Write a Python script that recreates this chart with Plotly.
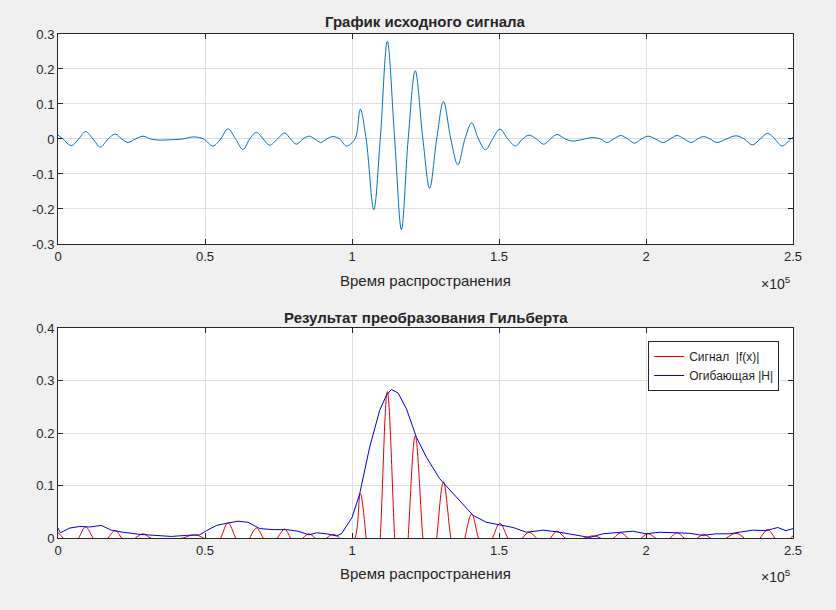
import plotly.graph_objects as go

# исходный сигнал: экстремумы и нули (время в единицах 1e5)
sig_t = [0.000, 0.017, 0.045, 0.070, 0.094, 0.119, 0.144, 0.170, 0.195, 0.217,
         0.238, 0.263, 0.289, 0.315, 0.340, 0.390, 0.425, 0.460, 0.495, 0.527,
         0.553, 0.578, 0.604, 0.629, 0.652, 0.675, 0.698, 0.720, 0.746, 0.771,
         0.791, 0.811, 0.833, 0.854, 0.874, 0.893, 0.914, 0.935, 0.958, 0.981,
         1.010, 1.028, 1.048, 1.074, 1.096, 1.120, 1.145, 1.168, 1.191, 1.215,
         1.241, 1.264, 1.288, 1.311, 1.336, 1.360, 1.384, 1.407, 1.430, 1.454,
         1.478, 1.503, 1.530, 1.556, 1.580, 1.602, 1.627, 1.652, 1.675, 1.697,
         1.725, 1.752, 1.790, 1.820, 1.845, 1.867, 1.890, 1.914, 1.938, 1.961,
         1.984, 2.007, 2.032, 2.058, 2.082, 2.105, 2.130, 2.154, 2.175, 2.196,
         2.218, 2.241, 2.273, 2.306, 2.334, 2.361, 2.388, 2.414, 2.438, 2.463,
         2.492, 2.500]
sig_y = [0.011, 0.000, -0.019, 0.000, 0.021, 0.000, -0.023, 0.000, 0.014, 0.000,
         -0.010, 0.000, 0.008, 0.000, -0.003, -0.002, 0.000, 0.006, 0.000, -0.020,
         0.000, 0.029, 0.000, -0.030, 0.000, 0.019, 0.000, -0.018, 0.000, 0.017,
         0.000, -0.015, 0.000, 0.008, 0.000, -0.010, 0.000, 0.007, 0.000, -0.020,
         0.000, 0.085, 0.000, -0.202, 0.000, 0.279, 0.000, -0.259, 0.000, 0.195,
         0.000, -0.141, 0.000, 0.107, 0.000, -0.074, 0.000, 0.046, 0.000, -0.031,
         0.000, 0.028, 0.000, -0.020, 0.000, 0.011, 0.000, -0.015, 0.000, 0.013,
         0.000, -0.006, 0.000, 0.004, 0.000, -0.010, 0.000, 0.010, 0.000, -0.012,
         0.000, 0.008, 0.000, -0.010, 0.000, 0.010, 0.000, -0.010, 0.000, 0.007,
         0.000, -0.010, 0.000, 0.009, 0.000, -0.017, 0.000, 0.016, 0.000, -0.020,
         0.000, 0.004]

# огибающая |H|
env_t = [0.000, 0.008, 0.040, 0.074, 0.108, 0.147, 0.181, 0.221, 0.278, 0.334,
         0.385, 0.436, 0.482, 0.505, 0.539, 0.573, 0.612, 0.646, 0.686, 0.731,
         0.777, 0.816, 0.854, 0.879, 0.913, 0.947, 0.964, 1.000, 1.026, 1.060,
         1.094, 1.117, 1.134, 1.157, 1.185, 1.219, 1.253, 1.298, 1.310, 1.355,
         1.412, 1.457, 1.502, 1.548, 1.593, 1.650, 1.707, 1.764, 1.808, 1.853,
         1.898, 1.955, 2.000, 2.045, 2.102, 2.147, 2.193, 2.238, 2.283, 2.317,
         2.363, 2.408, 2.448, 2.476, 2.500]
env_y = [0.019, 0.010, 0.019, 0.022, 0.021, 0.024, 0.015, 0.011, 0.007, 0.005,
         0.003, 0.005, 0.006, 0.014, 0.024, 0.028, 0.032, 0.030, 0.018, 0.016,
         0.016, 0.013, 0.006, 0.010, 0.008, 0.004, 0.008, 0.039, 0.084, 0.173,
         0.243, 0.272, 0.283, 0.276, 0.246, 0.192, 0.154, 0.113, 0.106, 0.078,
         0.043, 0.030, 0.025, 0.020, 0.011, 0.015, 0.011, 0.005, 0.001, 0.008,
         0.010, 0.013, 0.008, 0.011, 0.010, 0.009, 0.005, 0.008, 0.008, 0.011,
         0.015, 0.014, 0.020, 0.014, 0.018]

x_ticks = [0, 0.5, 1, 1.5, 2, 2.5]
x_labels = ["0", "0.5", "1", "1.5", "2", "2.5"]
y1_ticks = [-0.3, -0.2, -0.1, 0, 0.1, 0.2, 0.3]
y1_labels = ["-0.3", "-0.2", "-0.1", "0", "0.1", "0.2", "0.3"]
y2_ticks = [0, 0.1, 0.2, 0.3, 0.4]
y2_labels = ["0", "0.1", "0.2", "0.3", "0.4"]

FONT = "Liberation Sans, Arial, sans-serif"
INK = "#262626"

fig = go.Figure()
fig.add_trace(go.Scatter(x=sig_t, y=sig_y, mode="lines", line=dict(color="#0072BD", width=1, shape="spline"),
                         showlegend=False, xaxis="x", yaxis="y"))
fig.add_trace(go.Scatter(x=sig_t, y=sig_y, mode="lines", line=dict(color="#E00000", width=1, shape="spline"),
                         name="Сигнал  |f(x)|", xaxis="x2", yaxis="y2"))
fig.add_trace(go.Scatter(x=env_t, y=env_y, mode="lines", line=dict(color="#0000E0", width=1),
                         name="Огибающая |H|", xaxis="x2", yaxis="y2"))

axis_style = dict(showline=True, mirror="ticks", linecolor=INK, linewidth=1, ticks="inside", ticklen=5,
                  tickcolor=INK, showgrid=True, gridcolor="#DFDFDF", zeroline=False, automargin=False,
                  tickfont=dict(family=FONT, size=13, color=INK))

fig.update_layout(
    width=836, height=610,
    margin=dict(l=0, r=0, t=0, b=0, autoexpand=False),
    paper_bgcolor="#F0F0F0", plot_bgcolor="white",
    font=dict(family=FONT, color=INK),
    xaxis=dict(domain=[0.0694, 0.9486], range=[0, 2.5], tickvals=x_ticks, ticktext=x_labels,
               anchor="y", **axis_style),
    yaxis=dict(domain=[0.6, 0.9443], range=[-0.3, 0.3], tickvals=y1_ticks, ticktext=y1_labels,
               anchor="x", **axis_style),
    xaxis2=dict(domain=[0.0694, 0.9486], range=[0, 2.5], tickvals=x_ticks, ticktext=x_labels,
                anchor="y2", **axis_style),
    yaxis2=dict(domain=[0.118, 0.4623], range=[0, 0.4], tickvals=y2_ticks, ticktext=y2_labels,
                anchor="x2", **axis_style),
    legend=dict(x=0.932, y=0.441, xanchor="right", yanchor="top", bgcolor="white",
                bordercolor=INK, borderwidth=1, font=dict(family=FONT, size=12, color=INK),
                itemwidth=30, tracegroupgap=0),
    showlegend=True,
)

annotations = [
    dict(text="<b>График исходного сигнала</b>", x=0.509, y=588, font_size=15),
    dict(text="<b>Результат преобразования Гильберта</b>", x=0.509, y=293, font_size=15),
    dict(text="Время распространения", x=0.509, y=330, font_size=15),
    dict(text="Время распространения", x=0.509, y=37, font_size=15),
]
for a in annotations:
    fig.add_annotation(text=a["text"], x=a["x"], y=a["y"] / 610, xref="paper", yref="paper",
                       showarrow=False, xanchor="center", yanchor="middle",
                       font=dict(family=FONT, size=a["font_size"], color=INK))
for yy in [327, 34]:
    fig.add_annotation(text="×10<sup>5</sup>", x=0.9486, y=yy / 610, xref="paper", yref="paper",
                       showarrow=False, xanchor="right", yanchor="middle",
                       font=dict(family=FONT, size=14, color=INK))

# убрать отступ страницы, чтобы фигура стояла в углу окна
page_js = "document.body.style.margin='0';document.body.style.background='#F0F0F0';"
fig.write_html("out.html", post_script=page_js, config={"displayModeBar": False})
